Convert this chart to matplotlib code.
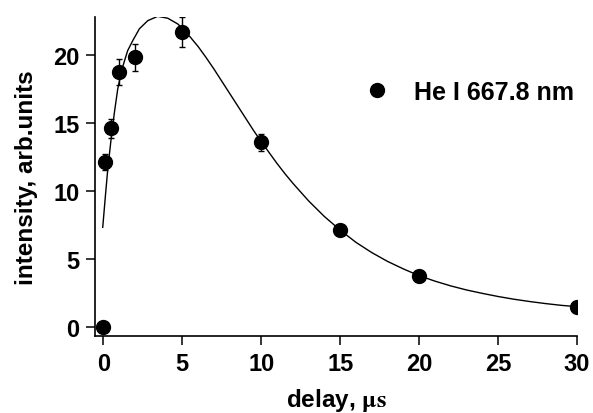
import matplotlib
matplotlib.use("Agg")
import matplotlib.pyplot as plt

plt.rcParams['font.family'] = ['Liberation Sans', 'DejaVu Sans']
plt.rcParams['font.weight'] = 'bold'
plt.rcParams['mathtext.fontset'] = 'stix'

# measured points
delay = [0, 0.1, 0.5, 1, 2, 5, 10, 15, 20, 30]
intensity = [0, 12.1, 14.6, 18.75, 19.8, 21.7, 13.55, 7.1, 3.75, 1.47]
err = [0, 0.6, 0.7, 0.95, 1.0, 1.1, 0.65, 0, 0, 0]

# fitted curve
fit_x = [-0.04, 0.13, 0.28, 0.49, 0.70, 0.91, 1.18, 1.54, 1.86, 2.28, 2.81,
         3.44, 4.08, 4.71, 5.0, 5.5, 6.0, 6.5, 7.0, 7.5, 8.0, 8.5, 9.0, 9.5,
         10.0, 10.5, 11.0, 11.5, 12.0, 13.0, 14.0, 15.0, 16.0, 17.0, 18.0,
         19.0, 20.0, 21.0, 22.0, 23.0, 24.0, 25.0, 26.0, 27.0, 28.0, 29.0, 30.0]
fit_y = [7.31, 9.63, 11.6, 13.8, 15.76, 17.48, 18.95, 20.3, 21.03, 21.9, 22.5,
         22.82, 22.68, 22.26, 21.95, 21.3, 20.6, 19.8, 18.95, 18.05, 17.15,
         16.25, 15.35, 14.45, 13.6, 12.8, 12.0, 11.25, 10.55, 9.25, 8.1, 7.1,
         6.2, 5.45, 4.8, 4.25, 3.75, 3.35, 3.0, 2.7, 2.45, 2.22, 2.02, 1.85,
         1.7, 1.57, 1.47]

legend_label = "He I 667.8 nm"
xticks = [0, 5, 10, 15, 20, 25, 30]
yticks = [0, 5, 10, 15, 20]

fig = plt.figure(figsize=(5.93, 4.14), dpi=100)
ax = fig.add_axes([0.161, 0.1855, 0.812, 0.772])

ax.plot(fit_x, fit_y, color='black', lw=1.0, zorder=2)
ax.errorbar(delay, intensity, yerr=err, fmt='none', ecolor='black',
            elinewidth=1.0, capsize=2.5, capthick=1.0, zorder=3)
ax.plot(delay, intensity, 'o', color='black', markersize=10, zorder=4,
        label=legend_label)

ax.set_xlim(-0.5, 30)
ax.set_ylim(-0.7, 22.8)
ax.set_xticks(xticks)
ax.set_yticks(yticks)
for s in ['top', 'right']:
    ax.spines[s].set_visible(False)
for s in ['left', 'bottom']:
    ax.spines[s].set_linewidth(1.2)
ax.tick_params(direction='out', length=6.5, width=1.1, labelsize=17, pad=5)
for lab in ax.get_xticklabels() + ax.get_yticklabels():
    lab.set_fontweight('bold')

ax.set_xlabel(r"delay, $\mathrm{\mu s}$", fontsize=17.5, fontweight='bold', labelpad=8)
ax.set_ylabel("intensity, arb.units", fontsize=17.5, fontweight='bold', labelpad=11)

ax.legend(loc='center left', bbox_to_anchor=(364.5 / 593, 1 - 93 / 414),
          bbox_transform=fig.transFigure, frameon=False, borderpad=0,
          borderaxespad=0, handlelength=1.0, handletextpad=1.0,
          prop={'size': 18, 'weight': 'bold'})

fig.savefig("out.png", dpi=100)
